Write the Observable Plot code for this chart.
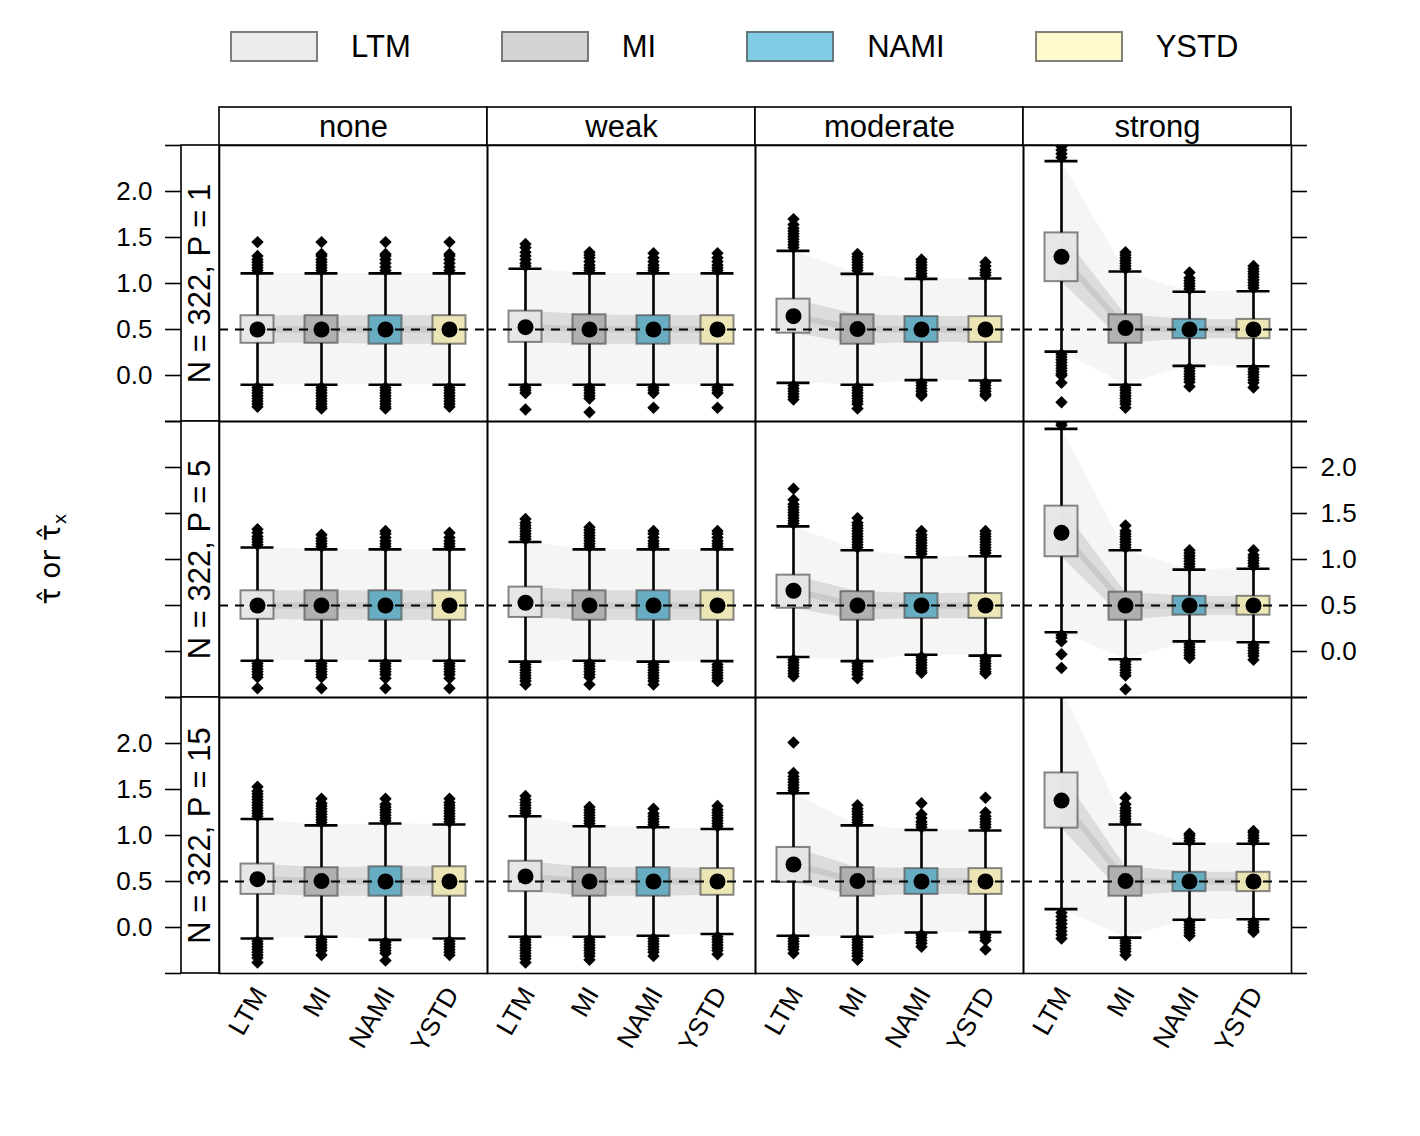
<!DOCTYPE html>
<html><head><meta charset="utf-8">
<script src="https://cdn.jsdelivr.net/npm/d3@7"></script>
<script src="https://cdn.jsdelivr.net/npm/@observablehq/plot@0.6"></script>
<style>
body{margin:0;background:#fff;font-family:"Liberation Sans",Arial,Helvetica,sans-serif;}
#legend{height:90px;width:1420px;display:flex;align-items:flex-start;padding-left:230px;box-sizing:border-box;padding-top:31px;}
.item{display:flex;align-items:center;margin-right:90px;}
.sw{width:88px;height:31px;box-sizing:border-box;border:2px solid rgba(90,90,90,0.75);}
.lab{font-size:31px;margin-left:33px;line-height:31px;color:#000;}
</style></head><body>
<div id="legend"></div><div id="chart"></div>
<script>
const methods = ["LTM","MI","NAMI","YSTD"];
const strengths = ["none","weak","moderate","strong"];
const designs = ["N = 322, P = 1","N = 322, P = 5","N = 322, P = 15"];
const legendColors = ["#EBEBEB","#D3D3D3","#80CDE5","#FFFACD"];
const boxColors = ["#E4E4E4","#ABABAB","#5BA7BF","#ECE6B0"];
const yTicks = [-0.5,0,0.5,1,1.5,2,2.5];
const yLabels = [0,0.5,1,1.5,2];
const target = 0.5;

// values indexed [design][strength][method]
const lowerWhisker = [
  [[-0.10,-0.10,-0.10,-0.10],[-0.10,-0.10,-0.10,-0.10],[-0.08,-0.10,-0.05,-0.055],[0.26,-0.10,0.105,0.10]],
  [[-0.10,-0.10,-0.10,-0.10],[-0.11,-0.10,-0.11,-0.105],[-0.06,-0.105,-0.035,-0.045],[0.21,-0.085,0.11,0.10]],
  [[-0.12,-0.10,-0.135,-0.12],[-0.10,-0.10,-0.09,-0.07],[-0.09,-0.10,-0.055,-0.05],[0.20,-0.11,0.085,0.09]]
];
const lowerQuartile = [
  [[0.35,0.35,0.34,0.34],[0.36,0.34,0.34,0.34],[0.46,0.34,0.36,0.36],[1.02,0.35,0.40,0.40]],
  [[0.35,0.34,0.34,0.34],[0.37,0.34,0.34,0.34],[0.47,0.34,0.36,0.36],[1.03,0.34,0.395,0.395]],
  [[0.36,0.34,0.34,0.34],[0.39,0.34,0.34,0.35],[0.49,0.34,0.36,0.36],[1.08,0.34,0.39,0.39]]
];
const centre = [
  [[0.50,0.50,0.50,0.50],[0.525,0.50,0.50,0.50],[0.645,0.505,0.50,0.50],[1.29,0.515,0.50,0.50]],
  [[0.50,0.50,0.50,0.50],[0.53,0.50,0.50,0.50],[0.66,0.50,0.50,0.50],[1.29,0.50,0.50,0.50]],
  [[0.525,0.505,0.50,0.50],[0.555,0.50,0.50,0.50],[0.685,0.505,0.50,0.50],[1.38,0.505,0.50,0.50]]
];
const upperQuartile = [
  [[0.65,0.65,0.65,0.65],[0.70,0.66,0.65,0.65],[0.83,0.66,0.64,0.64],[1.55,0.66,0.61,0.61]],
  [[0.66,0.66,0.66,0.66],[0.70,0.66,0.66,0.66],[0.83,0.65,0.63,0.63],[1.58,0.645,0.60,0.60]],
  [[0.69,0.65,0.66,0.66],[0.72,0.65,0.65,0.64],[0.87,0.65,0.64,0.64],[1.68,0.66,0.60,0.60]]
];
const upperWhisker = [
  [[1.11,1.11,1.11,1.11],[1.16,1.11,1.11,1.11],[1.355,1.105,1.05,1.055],[2.33,1.13,0.91,0.915]],
  [[1.13,1.11,1.11,1.11],[1.19,1.11,1.11,1.11],[1.36,1.10,1.025,1.035],[2.42,1.10,0.89,0.90]],
  [[1.18,1.11,1.13,1.12],[1.21,1.10,1.09,1.07],[1.46,1.11,1.06,1.055],[2.62,1.12,0.91,0.91]]
];
const outliersHigh = [
  [
    [[1.14,1.17,1.20,1.23,1.26,1.30,1.45],[1.14,1.17,1.20,1.23,1.26,1.30,1.32,1.45],[1.14,1.18,1.22,1.26,1.30,1.32,1.45],[1.14,1.18,1.22,1.26,1.30,1.32,1.45]],
    [[1.19,1.22,1.26,1.30,1.34,1.39,1.43],[1.14,1.17,1.20,1.24,1.28,1.31,1.34],[1.14,1.17,1.20,1.24,1.28,1.33],[1.14,1.17,1.20,1.24,1.28,1.33]],
    [[1.39,1.42,1.45,1.48,1.51,1.54,1.57,1.60,1.64,1.70],[1.14,1.17,1.20,1.23,1.26,1.29,1.32],[1.08,1.11,1.14,1.17,1.20,1.23,1.26],[1.09,1.12,1.15,1.19,1.23]],
    [[2.37,2.41,2.45,2.49],[1.16,1.19,1.22,1.25,1.28,1.31,1.34],[0.94,0.97,1.00,1.03,1.06,1.12],[0.95,0.98,1.01,1.04,1.07,1.10,1.13,1.16,1.19]]
  ],
  [
    [[1.16,1.19,1.22,1.25,1.29,1.33],[1.14,1.17,1.20,1.23,1.27],[1.14,1.17,1.20,1.24,1.28,1.31],[1.14,1.17,1.20,1.24,1.29]],
    [[1.22,1.25,1.28,1.31,1.34,1.37,1.40,1.44],[1.14,1.17,1.20,1.23,1.26,1.29,1.32,1.35],[1.14,1.17,1.20,1.24,1.28,1.31],[1.14,1.17,1.20,1.24,1.28,1.31]],
    [[1.39,1.42,1.45,1.48,1.51,1.54,1.57,1.60,1.65,1.77],[1.13,1.16,1.19,1.22,1.25,1.28,1.31,1.34,1.37,1.40,1.45],[1.06,1.09,1.12,1.15,1.18,1.21,1.24,1.27,1.31],[1.07,1.10,1.13,1.16,1.19,1.22,1.25,1.28,1.31]],
    [[2.46,2.49],[1.13,1.16,1.19,1.22,1.25,1.28,1.31,1.37],[0.92,0.95,0.98,1.01,1.04,1.07,1.10],[0.93,0.96,0.99,1.02,1.05,1.10]]
  ],
  [
    [[1.21,1.24,1.27,1.30,1.33,1.36,1.39,1.42,1.45,1.48,1.53],[1.14,1.17,1.20,1.23,1.26,1.29,1.32,1.35,1.40],[1.16,1.19,1.22,1.25,1.28,1.31,1.34,1.40],[1.15,1.18,1.21,1.24,1.27,1.30,1.33,1.36,1.40]],
    [[1.24,1.27,1.30,1.33,1.36,1.39,1.43],[1.13,1.16,1.19,1.22,1.25,1.28,1.31],[1.12,1.15,1.18,1.21,1.24,1.29],[1.10,1.13,1.16,1.19,1.22,1.25,1.28,1.32]],
    [[1.49,1.52,1.55,1.58,1.61,1.64,1.68,2.01],[1.14,1.17,1.20,1.23,1.26,1.29,1.33],[1.09,1.12,1.15,1.19,1.23,1.35],[1.09,1.12,1.15,1.18,1.21,1.25,1.41]],
    [[],[1.15,1.18,1.21,1.24,1.27,1.30,1.34,1.41],[0.94,0.97,1.00,1.02],[0.94,0.97,1.00,1.03,1.05]]
  ]
];
const outliersLow = [
  [
    [[-0.13,-0.16,-0.19,-0.22,-0.25,-0.28,-0.31,-0.34],[-0.13,-0.16,-0.19,-0.22,-0.25,-0.28,-0.31,-0.34,-0.36],[-0.13,-0.16,-0.19,-0.22,-0.25,-0.28,-0.31,-0.34,-0.36],[-0.13,-0.16,-0.19,-0.22,-0.25,-0.28,-0.31,-0.34]],
    [[-0.13,-0.16,-0.19,-0.37],[-0.13,-0.16,-0.19,-0.22,-0.25,-0.40],[-0.13,-0.16,-0.19,-0.35],[-0.13,-0.16,-0.19,-0.35]],
    [[-0.11,-0.14,-0.17,-0.20,-0.23,-0.26],[-0.13,-0.16,-0.19,-0.22,-0.25,-0.28,-0.31,-0.36],[-0.08,-0.11,-0.14,-0.17,-0.20,-0.22],[-0.08,-0.11,-0.14,-0.17,-0.20,-0.22]],
    [[0.23,0.20,0.17,0.14,0.11,0.08,0.05,0.02,0.00,-0.08,-0.29],[-0.13,-0.16,-0.19,-0.22,-0.25,-0.28,-0.31,-0.35],[0.08,0.05,0.02,-0.01,-0.04,-0.07,-0.12],[0.07,0.04,0.01,-0.02,-0.05,-0.08,-0.13]]
  ],
  [
    [[-0.13,-0.16,-0.19,-0.22,-0.25,-0.28,-0.40],[-0.13,-0.16,-0.19,-0.22,-0.25,-0.28,-0.40],[-0.13,-0.16,-0.19,-0.22,-0.25,-0.29,-0.40],[-0.13,-0.16,-0.19,-0.22,-0.25,-0.29,-0.40]],
    [[-0.14,-0.17,-0.20,-0.23,-0.26,-0.29,-0.32,-0.36],[-0.13,-0.16,-0.19,-0.22,-0.25,-0.28,-0.36],[-0.14,-0.17,-0.20,-0.23,-0.26,-0.29,-0.32,-0.36],[-0.14,-0.17,-0.20,-0.23,-0.26,-0.29,-0.32]],
    [[-0.09,-0.12,-0.15,-0.18,-0.21,-0.24,-0.27],[-0.13,-0.16,-0.19,-0.22,-0.25,-0.29],[-0.06,-0.09,-0.12,-0.15,-0.18,-0.21,-0.23],[-0.07,-0.10,-0.13,-0.16,-0.19,-0.22,-0.24]],
    [[0.18,0.15,0.11,-0.03,-0.18],[-0.11,-0.14,-0.17,-0.20,-0.23,-0.26,-0.41],[0.08,0.05,0.02,-0.01,-0.04,-0.07],[0.07,0.04,0.01,-0.02,-0.05,-0.09]]
  ],
  [
    [[-0.15,-0.18,-0.21,-0.24,-0.27,-0.30,-0.33,-0.38],[-0.13,-0.16,-0.19,-0.22,-0.25,-0.30],[-0.16,-0.19,-0.22,-0.25,-0.28,-0.36],[-0.15,-0.18,-0.21,-0.24,-0.27,-0.30]],
    [[-0.13,-0.16,-0.19,-0.22,-0.25,-0.28,-0.31,-0.34,-0.38],[-0.13,-0.16,-0.19,-0.22,-0.25,-0.28,-0.31,-0.35],[-0.12,-0.15,-0.18,-0.21,-0.24,-0.27,-0.31],[-0.10,-0.13,-0.16,-0.19,-0.22,-0.25,-0.29]],
    [[-0.12,-0.15,-0.18,-0.21,-0.24,-0.28],[-0.13,-0.16,-0.19,-0.22,-0.25,-0.28,-0.31,-0.35],[-0.08,-0.11,-0.14,-0.17,-0.21],[-0.08,-0.11,-0.14,-0.24]],
    [[0.16,0.12,0.08,0.04,0.00,-0.04,-0.08,-0.12],[-0.14,-0.17,-0.20,-0.23,-0.26,-0.30],[0.06,0.03,0.00,-0.03,-0.06,-0.09],[0.06,0.03,0.00,-0.03,-0.05]]
  ]
];

// ---------- legend (HTML, above the SVG) ----------
const legend = document.getElementById("legend");
methods.forEach((m, k) => {
  const item = document.createElement("div"); item.className = "item";
  const sw = document.createElement("div"); sw.className = "sw"; sw.style.background = legendColors[k];
  const lab = document.createElement("div"); lab.className = "lab"; lab.textContent = m;
  item.append(sw, lab); legend.append(item);
});

// ---------- tables built from the arrays ----------
const boxes = [], outliers = [];
designs.forEach((d, r) => strengths.forEach((s, c) => methods.forEach((m, k) => {
  boxes.push({design: d, strength: s, method: m, i: k,
    lw: lowerWhisker[r][c][k], q1: lowerQuartile[r][c][k], mid: centre[r][c][k],
    q3: upperQuartile[r][c][k], uw: upperWhisker[r][c][k]});
  for (const v of outliersHigh[r][c][k]) outliers.push({design: d, strength: s, i: k, v});
  for (const v of outliersLow[r][c][k]) outliers.push({design: d, strength: s, i: k, v});
})));

const pxX = 64, pxY = 92;            // px per data unit
const xLo = -38 / pxX, xHi = 3 + 38 / pxX;
const hw = 16.5 / pxX;               // half box width
const stripW = 38 / pxX, tickL = 16 / pxX, stripH = 38 / pxY;
const leftTicks = designs.flatMap(d => yTicks.map(v => ({design: d, v})));
const leftLabels = [designs[0], designs[2]].flatMap(d => yLabels.map(v => ({design: d, v})));
const rightLabels = yLabels.map(v => ({design: designs[1], v}));
const xLabels = strengths.flatMap(s => methods.map((m, k) => ({strength: s, method: m, i: k})));
const fmt = d3.format(".1f");
const F = {fx: "strength", fy: "design"};

const chart = Plot.plot({
  width: 1420, height: 1046,
  marginLeft: 219, marginRight: 129, marginTop: 55, marginBottom: 163,
  style: {fontFamily: '"Liberation Sans", Arial, Helvetica, sans-serif', fontSize: "26px", background: "white", overflow: "visible"},
  x: {domain: [xLo, xHi], axis: null},
  y: {domain: [-0.5, 2.5], axis: null},
  fx: {domain: strengths, padding: 0, axis: null},
  fy: {domain: designs, padding: 0, axis: null},
  color: {domain: methods, range: boxColors},
  marks: [
    // spaghetti haze
    Plot.areaY(boxes, {...F, x: "i", y1: "lw", y2: "uw", fill: "#777", fillOpacity: 0.07, clip: true}),
    Plot.areaY(boxes, {...F, x: "i", y1: "q1", y2: "q3", fill: "#666", fillOpacity: 0.17, clip: true}),
    Plot.lineY(boxes, {...F, x: "i", y: "mid", stroke: "#666", strokeOpacity: 0.15, strokeWidth: 6, clip: true}),
    // boxes
    Plot.rect(boxes, {...F, x1: d => d.i - hw, x2: d => d.i + hw, y1: "q1", y2: "q3",
      fill: "method", fillOpacity: 0.9, stroke: "#555", strokeOpacity: 0.7, strokeWidth: 2}),
    // target line
    Plot.ruleY([target], {stroke: "black", strokeWidth: 2, strokeDasharray: "9,7"}),
    // whiskers and caps
    Plot.ruleX(boxes, {...F, x: "i", y1: "q3", y2: "uw", stroke: "black", strokeWidth: 2.6, clip: true}),
    Plot.ruleX(boxes, {...F, x: "i", y1: "lw", y2: "q1", stroke: "black", strokeWidth: 2.6, clip: true}),
    Plot.ruleY(boxes, {...F, y: "uw", x1: d => d.i - hw, x2: d => d.i + hw, stroke: "black", strokeWidth: 2.6, clip: true}),
    Plot.ruleY(boxes, {...F, y: "lw", x1: d => d.i - hw, x2: d => d.i + hw, stroke: "black", strokeWidth: 2.6, clip: true}),
    // outliers
    Plot.dot(outliers, {...F, x: "i", y: "v", symbol: "diamond2", r: 5.6, fill: "black", stroke: "none", clip: true}),
    // centre dots
    Plot.dot(boxes, {...F, x: "i", y: "mid", r: 8, fill: "black", stroke: "none"}),
    // panel frames
    Plot.frame({stroke: "black", strokeWidth: 1.6}),
    // top strips
    Plot.rect(strengths, {fx: d => d, fy: () => designs[0], x1: xLo, x2: xHi, y1: 2.5, y2: 2.5 + stripH,
      fill: "white", stroke: "black", strokeWidth: 1.6}),
    Plot.text(strengths, {fx: d => d, fy: () => designs[0], x: 1.5, y: 2.5 + stripH / 2, dy: 1, text: d => d, fontSize: 31, fill: "black"}),
    // left strips
    Plot.rect(designs, {fx: () => strengths[0], fy: d => d, x1: xLo - stripW, x2: xLo, y1: -0.5, y2: 2.5,
      fill: "white", stroke: "black", strokeWidth: 1.6}),
    Plot.text(designs, {fx: () => strengths[0], fy: d => d, x: xLo - stripW / 2, y: 1.0, text: d => d, rotate: -90, fontSize: 31, fill: "black"}),
    // left axis
    Plot.ruleY(leftTicks, {fx: () => strengths[0], fy: "design", y: "v", x1: xLo - stripW, x2: xLo - stripW - tickL, stroke: "black", strokeWidth: 1.6}),
    Plot.text(leftLabels, {fx: () => strengths[0], fy: "design", y: "v", x: xLo - stripW - tickL, dx: -13, text: d => fmt(d.v), textAnchor: "end", fontSize: 26, fill: "black"}),
    // right axis
    Plot.ruleY(leftTicks, {fx: () => strengths[3], fy: "design", y: "v", x1: xHi, x2: xHi + tickL, stroke: "black", strokeWidth: 1.6}),
    Plot.text(rightLabels, {fx: () => strengths[3], fy: "design", y: "v", x: xHi + tickL, dx: 13, text: d => fmt(d.v), textAnchor: "start", fontSize: 26, fill: "black"}),
    // x labels
    Plot.text(xLabels, {fx: "strength", fy: () => designs[2], x: "i", y: -0.5, dy: 16, dx: 3, text: "method", rotate: -60, textAnchor: "end", fontSize: 26, fill: "black"})
  ]
});
document.getElementById("chart").append(chart);

// y-axis title
const svg = d3.select(chart.tagName.toLowerCase() === "svg" ? chart : chart.querySelector("svg"));
const t = svg.append("text")
  .attr("transform", "translate(60,469) rotate(-90)")
  .attr("text-anchor", "middle")
  .attr("font-size", 28)
  .attr("font-family", '"DejaVu Sans", "Liberation Sans", Arial, sans-serif')
  .attr("fill", "black");
t.append("tspan").text("\u03C4\u0302 or \u03C4\u0302");
t.append("tspan").attr("font-size", 18).attr("dy", 6).text("x");
</script></body></html>
